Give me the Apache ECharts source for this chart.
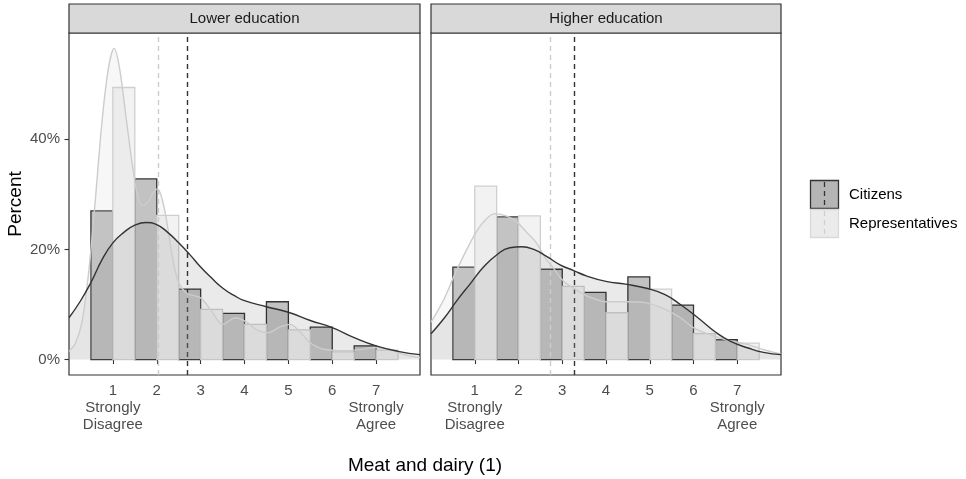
<!DOCTYPE html>
<html>
<head>
<meta charset="utf-8">
<script src="https://cdn.jsdelivr.net/npm/echarts@6/dist/echarts.min.js"></script>
<style>
  html, body { margin: 0; padding: 0; background: #ffffff; }
  #chart { width: 966px; height: 479px; }
</style>
</head>
<body>
<div id="chart"></div>
<script>
// Response scale (1 = strongly disagree ... 7 = strongly agree)
const scalePoints = [1, 2, 3, 4, 5, 6, 7];
const scaleLabels = ['1\nStrongly\nDisagree', '2', '3', '4', '5', '6', '7\nStrongly\nAgree'];
const yTicks = [0, 20, 40];
const panelTitles = ['Lower education', 'Higher education'];
const groupNames = ['Citizens', 'Representatives'];
const xTitle = 'Meat and dairy (1)';
const yTitle = 'Percent';

// Share of respondents (%) per answer
const citizensLower = [27.0, 32.8, 12.8, 8.4, 10.5, 5.9, 2.5];
const repsLower = [49.4, 26.2, 9.1, 6.4, 5.4, 1.4, 1.7];
const citizensHigher = [16.8, 25.9, 16.4, 12.2, 15.0, 9.9, 3.6];
const repsHigher = [31.5, 26.1, 13.3, 8.5, 12.8, 4.7, 3.0];

// Group means (citizens, representatives)
const meansLower = [2.69, 2.04];
const meansHigher = [3.28, 2.72];

// Smoothed density curves, [answer, percent]
const densCitizensLower = [[0,7.6],[0.25,10.5],[0.5,14],[0.75,18.1],[1,21.2],[1.25,23.1],[1.5,24.4],[1.75,24.9],[2,24.5],[2.25,23.1],[2.5,21.2],[2.75,19.1],[3,16.8],[3.25,14.8],[3.5,13],[3.75,11.7],[4,10.7],[4.5,9.6],[5,8.6],[5.5,7.1],[6,5.8],[6.5,4],[7,2.5],[7.5,1.5],[8,0.9]];
const densRepsLower = [[0,1.5],[0.15,3],[0.3,7],[0.45,16],[0.6,29],[0.75,43],[0.9,53],[1.03,56.5],[1.15,53],[1.3,44],[1.45,35],[1.57,29.6],[1.68,28],[1.8,28.6],[1.92,30.3],[2.02,31],[2.12,29.2],[2.22,25.4],[2.35,19],[2.5,14],[2.7,12],[3,11.2],[3.25,8.8],[3.5,6.4],[3.8,7.6],[4.05,6.8],[4.3,5.3],[4.55,4.9],[4.8,5.9],[5.03,6.4],[5.27,5],[5.5,3],[5.75,2],[6,1.7],[6.3,1.6],[6.62,1.8],[7,2.2],[7.3,1.9],[7.6,1],[8,0.3]];
const densCitizensHigher = [[0,4.7],[0.3,7.5],[0.6,10.8],[0.9,13.8],[1.2,16.8],[1.5,19],[1.8,20.3],[2.08,20.5],[2.35,20],[2.65,18.7],[2.95,17.2],[3.25,16.2],[3.55,15.2],[4,14.2],[4.45,13.7],[4.95,12.9],[5.35,11.8],[5.7,10],[6.1,7.6],[6.5,5],[6.85,3.3],[7.25,2.1],[7.6,1.3],[8,0.9]];
const densRepsHigher = [[0,6.8],[0.3,11],[0.55,15.6],[0.95,22],[1.2,25],[1.46,26.5],[1.75,26],[1.96,25],[2.2,23],[2.41,21.2],[2.6,18.6],[2.8,16.6],[3.02,14.3],[3.25,13],[3.5,11.8],[3.75,11],[4,10.5],[4.46,10.5],[4.92,10.3],[5.3,9.3],[5.68,7.7],[5.98,5.9],[6.28,4.8],[6.74,3.6],[7.2,2.8],[7.65,1.7],[8,1.0]];

const FONT = '"Liberation Sans", Arial, sans-serif';
const DARK = '#333333';
const LIGHT = '#cccccc';
const styles = {
  citizens: { barFill: '#c2c2c2', barStroke: DARK, line: DARK, area: 'rgba(51,51,51,0.10)', offset: -0.5, smooth: 0.5 },
  reps: { barFill: '#f2f2f2', barStroke: '#cfcfcf', line: LIGHT, area: 'rgba(204,204,204,0.16)', offset: 0, smooth: 0.35 }
};

const panelLayout = [
  { left: 69, width: 351 },
  { left: 431, width: 350 }
];
const gridTop = 33, gridHeight = 342, stripTop = 4;

const chart = echarts.init(document.getElementById('chart'), null, { renderer: 'canvas' });

// Dodged histogram bars: citizens to the left of each answer, representatives to the right
function barSeries(idx, values, st, name) {
  return {
    name: name,
    type: 'custom',
    xAxisIndex: idx, yAxisIndex: idx,
    z: name === 'Citizens' ? 2 : 3,
    data: scalePoints.map((x, i) => [x, values[i]]),
    renderItem: function (params, api) {
      const x = api.value(0), v = api.value(1);
      const p0 = api.coord([x + st.offset, 0]);
      const p1 = api.coord([x + st.offset + 0.5, v]);
      return {
        type: 'rect',
        shape: { x: p0[0], y: p1[1], width: p1[0] - p0[0], height: p0[1] - p1[1] },
        style: { fill: st.barFill, stroke: st.barStroke, lineWidth: 1.3 }
      };
    }
  };
}

function areaSeries(idx, pts, st, z) {
  return {
    type: 'line', xAxisIndex: idx, yAxisIndex: idx,
    data: pts, smooth: st.smooth, symbol: 'none', z: z,
    lineStyle: { width: 0, opacity: 0 },
    areaStyle: { color: st.area, opacity: 1 },
    silent: true
  };
}

function curveSeries(idx, pts, st, z, mean) {
  return {
    type: 'line', xAxisIndex: idx, yAxisIndex: idx,
    data: pts, smooth: st.smooth, symbol: 'none', z: z,
    lineStyle: { width: 1.4, color: st.line },
    silent: true,
    markLine: {
      silent: true, symbol: 'none', label: { show: false },
      lineStyle: { color: st.line, width: 1.4, type: [5, 4] },
      data: [{ xAxis: mean }]
    }
  };
}

const grids = panelLayout.map(p => ({
  left: p.left, width: p.width, top: gridTop, height: gridHeight,
  show: true, borderColor: DARK, borderWidth: 1.2, backgroundColor: '#ffffff'
}));

const xAxes = panelLayout.map((p, i) => ({
  type: 'value', gridIndex: i, min: 0, max: 8,
  axisLine: { show: false },
  splitLine: { show: false },
  axisTick: { show: true, length: 4.5, lineStyle: { color: DARK, width: 1.1 }, customValues: scalePoints },
  axisLabel: {
    show: true, customValues: scalePoints, margin: 7,
    color: '#4d4d4d', fontSize: 15, fontFamily: FONT, lineHeight: 17, align: 'center',
    formatter: v => scaleLabels[scalePoints.indexOf(v)] || ''
  }
}));

const yAxes = panelLayout.map((p, i) => ({
  type: 'value', gridIndex: i, min: -2.8, max: 59.3,
  axisLine: { show: false },
  splitLine: { show: false },
  axisTick: { show: i === 0, length: 4.5, lineStyle: { color: DARK, width: 1.1 }, customValues: yTicks },
  axisLabel: {
    show: i === 0, customValues: yTicks, margin: 9,
    color: '#4d4d4d', fontSize: 15, fontFamily: FONT,
    formatter: v => v + '%'
  }
}));

const series = [
  barSeries(0, citizensLower, styles.citizens, groupNames[0]),
  barSeries(0, repsLower, styles.reps, groupNames[1]),
  areaSeries(0, densCitizensLower, styles.citizens, 4),
  areaSeries(0, densRepsLower, styles.reps, 5),
  curveSeries(0, densCitizensLower, styles.citizens, 7, meansLower[0]),
  curveSeries(0, densRepsLower, styles.reps, 6, meansLower[1]),
  barSeries(1, citizensHigher, styles.citizens, groupNames[0]),
  barSeries(1, repsHigher, styles.reps, groupNames[1]),
  areaSeries(1, densCitizensHigher, styles.citizens, 4),
  areaSeries(1, densRepsHigher, styles.reps, 5),
  curveSeries(1, densCitizensHigher, styles.citizens, 7, meansHigher[0]),
  curveSeries(1, densRepsHigher, styles.reps, 6, meansHigher[1])
];

// Facet strips, axis titles and legend keys
const graphics = [];
panelLayout.forEach((p, i) => {
  graphics.push({
    type: 'rect', shape: { x: p.left, y: stripTop, width: p.width, height: gridTop - stripTop },
    style: { fill: '#d9d9d9', stroke: DARK, lineWidth: 1.2 }, z: 10
  });
  graphics.push({
    type: 'text', x: p.left + p.width / 2, y: stripTop + (gridTop - stripTop) / 2 + 0.5,
    style: { text: panelTitles[i], fill: '#1a1a1a', font: '15px ' + FONT, align: 'center', verticalAlign: 'middle' }, z: 11
  });
});
graphics.push({
  type: 'text', x: 425, y: 466,
  style: { text: xTitle, fill: '#000000', font: '19px ' + FONT, align: 'center', verticalAlign: 'middle' }
});
graphics.push({
  type: 'text', x: 16, y: 204, rotation: Math.PI / 2,
  style: { text: yTitle, fill: '#000000', font: '19px ' + FONT, align: 'center', verticalAlign: 'middle' }
});
const legendKeys = [
  { fill: '#b5b5b5', stroke: DARK, dash: DARK },
  { fill: '#ebebeb', stroke: '#d9d9d9', dash: '#cfcfcf' }
];
legendKeys.forEach((k, i) => {
  const y = 180 + i * 29;
  graphics.push({
    type: 'rect', shape: { x: 810.5, y: y + 0.5, width: 28, height: 28 },
    style: { fill: k.fill, stroke: k.stroke, lineWidth: 1.3 }
  });
  graphics.push({
    type: 'line', shape: { x1: 824.5, y1: y + 2, x2: 824.5, y2: y + 27 },
    style: { stroke: k.dash, lineWidth: 1.3, lineDash: [5, 4] }
  });
  graphics.push({
    type: 'text', x: 849, y: y + 15,
    style: { text: groupNames[i], fill: '#000000', font: '15px ' + FONT, align: 'left', verticalAlign: 'middle' }
  });
});

chart.setOption({
  animation: false,
  backgroundColor: '#ffffff',
  grid: grids,
  xAxis: xAxes,
  yAxis: yAxes,
  series: series,
  graphic: graphics
});
</script>
</body>
</html>
